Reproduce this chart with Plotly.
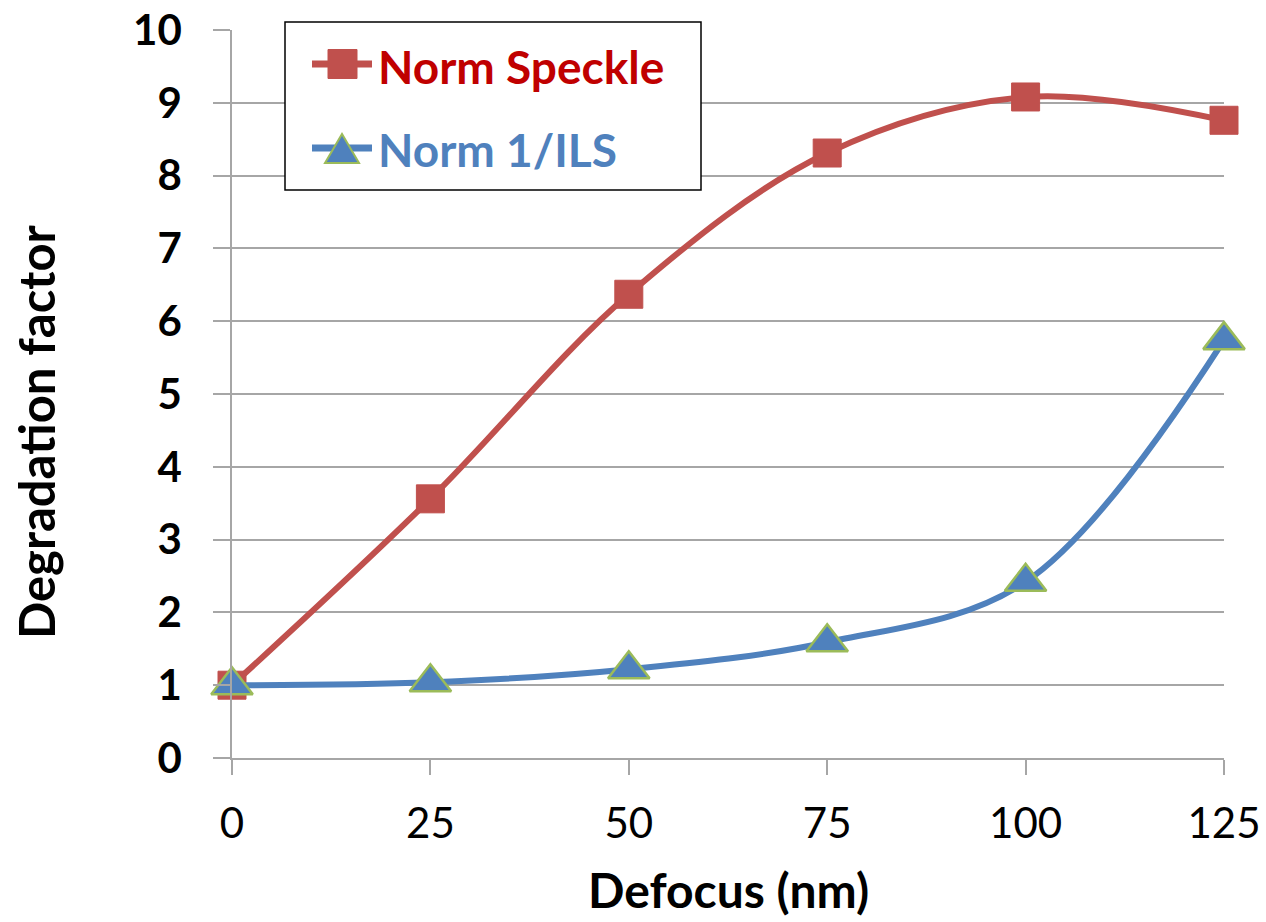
import plotly.graph_objects as go

defocus = [0, 25, 50, 75, 100, 125]
norm_speckle = [1.0, 3.56, 6.37, 8.31, 9.08, 8.76]
norm_ils = [1.0, 1.04, 1.22, 1.59, 2.42, 5.74]
y_ticks = [0, 1, 2, 3, 4, 5, 6, 7, 8, 9, 10]
series_names = ["Norm Speckle", "Norm 1/ILS"]

FONT = "Lato"
GRID = "#A6A6A6"
RED_LINE = "#C0504D"
RED_TEXT = "#C00000"
BLUE = "#4F81BD"
GREEN = "#9BBB59"

W, H = 1266, 922
L, R, T, B = 232, 42, 30, 164
PW, PH = W - L - R, H - T - B


def px(x):
    return (x - L) / PW


def py(y):
    return (H - B - y) / PH


fig = go.Figure()
fig.add_trace(go.Scatter(
    x=defocus, y=norm_speckle, mode="lines+markers", name=series_names[0],
    line=dict(color=RED_LINE, width=6, shape="spline", smoothing=1.0),
    marker=dict(symbol="square", size=28, color=RED_LINE, line=dict(color=RED_LINE, width=1)),
    cliponaxis=False, showlegend=False,
))
fig.add_trace(go.Scatter(
    x=defocus, y=norm_ils, mode="lines+markers", name=series_names[1],
    line=dict(color=BLUE, width=6, shape="spline", smoothing=1.0),
    marker=dict(symbol="triangle-up", size=36, color=BLUE, line=dict(color=GREEN, width=2.5)),
    cliponaxis=False, showlegend=False,
))

# Manual legend (box, sample lines, symbols, labels)
row1, row2 = 64, 148
shapes = [
    dict(type="rect", xref="paper", yref="paper", x0=px(285), x1=px(701), y0=py(190), y1=py(22),
         line=dict(color="black", width=1.5), fillcolor="white", layer="above"),
    dict(type="line", xref="paper", yref="paper", x0=px(312), x1=px(372), y0=py(row1), y1=py(row1),
         line=dict(color=RED_LINE, width=7), layer="above"),
    dict(type="rect", xref="paper", yref="paper", x0=px(328), x1=px(357), y0=py(row1 + 14.5), y1=py(row1 - 14.5),
         line=dict(color=RED_LINE, width=1), fillcolor=RED_LINE, layer="above"),
    dict(type="line", xref="paper", yref="paper", x0=px(312), x1=px(372), y0=py(row2), y1=py(row2),
         line=dict(color=BLUE, width=7), layer="above"),
    dict(type="path", xref="paper", yref="paper",
         path=f"M {px(325)},{py(row2 + 15)} L {px(359)},{py(row2 + 15)} L {px(342)},{py(row2 - 14)} Z",
         line=dict(color=GREEN, width=2), fillcolor=BLUE, layer="above"),
]

annotations = [
    dict(text=f"<b>{series_names[0]}</b>", xref="paper", yref="paper", x=px(376), y=py(row1 + 2),
         xanchor="left", yanchor="middle", showarrow=False,
         font=dict(family=FONT, size=46, color=RED_TEXT)),
    dict(text=f"<b>{series_names[1]}</b>", xref="paper", yref="paper", x=px(376), y=py(row2 + 2),
         xanchor="left", yanchor="middle", showarrow=False,
         font=dict(family=FONT, size=46, color=BLUE)),
    dict(text="<b>Defocus (nm)</b>", xref="paper", yref="paper",
         x=0.5, y=py(889), xanchor="center", yanchor="middle",
         showarrow=False, font=dict(family=FONT, size=48, color="black")),
    dict(text="<b>Degradation factor</b>", xref="paper", yref="paper",
         x=px(36), y=py(432), xanchor="center", yanchor="middle", textangle=-90,
         showarrow=False, font=dict(family=FONT, size=49, color="black")),
]

fig.update_layout(
    width=W, height=H,
    margin=dict(l=L, r=R, t=T, b=B),
    paper_bgcolor="white", plot_bgcolor="white",
    font=dict(family=FONT, color="black"),
    showlegend=False,
    xaxis=dict(
        range=[0, 125], tickmode="array", tickvals=defocus,
        ticktext=[str(v) for v in defocus],
        showgrid=False, zeroline=False, automargin=False,
        showline=True, linecolor=GRID, linewidth=1.5,
        ticks="outside", ticklen=15, tickcolor=GRID, tickwidth=1.5,
        tickfont=dict(family=FONT, size=42, color="black"),
        ticklabelstandoff=13,
    ),
    yaxis=dict(
        range=[0, 10], tickmode="array", tickvals=y_ticks,
        showgrid=True, gridcolor=GRID, gridwidth=1.5, zeroline=False, automargin=False,
        showline=True, linecolor=GRID, linewidth=1.5,
        ticks="outside", ticklen=17, tickcolor=GRID, tickwidth=1.5,
        tickfont=dict(family=FONT, size=42, color="black", weight="bold"),
        ticklabelstandoff=23,
    ),
    shapes=shapes,
    annotations=annotations,
)

fig.write_html("out.html")
